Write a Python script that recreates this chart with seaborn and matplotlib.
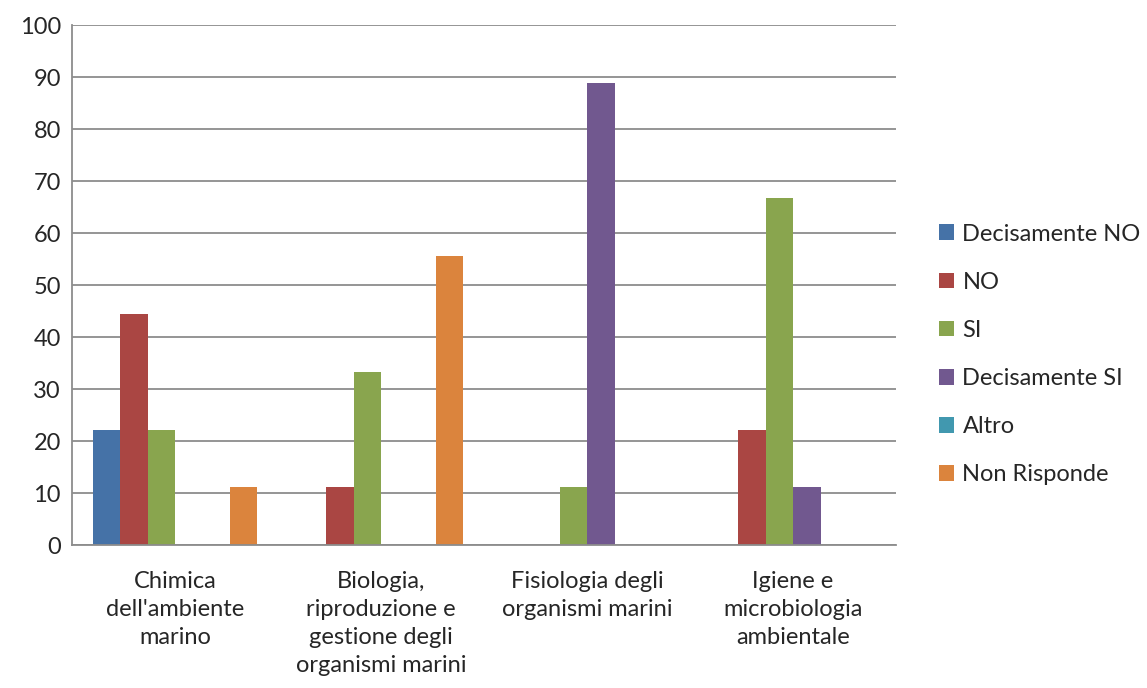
import numpy as np
import pandas as pd
import seaborn as sns
import matplotlib
matplotlib.use("Agg")
import matplotlib.pyplot as plt
from matplotlib.patches import Patch

# data
categorie = ["Chimica\ndell'ambiente\nmarino",
             "Biologia,\nriproduzione e\ngestione degli\norganismi marini",
             "Fisiologia degli\norganismi marini",
             "Igiene e\nmicrobiologia\nambientale"]
risposte = ["Decisamente NO", "NO", "SI", "Decisamente SI", "Altro", "Non Risponde"]
decisamente_no = [22.2, 0, 0, 0]
no = [44.4, 11.1, 0, 22.2]
si = [22.2, 33.3, 11.1, 66.7]
decisamente_si = [0, 0, 88.9, 11.1]
altro = [0, 0, 0, 0]
non_risponde = [11.1, 55.6, 0, 0]

colori = ["#4572A7", "#AA4643", "#89A54E", "#71588F", "#4198AF", "#DB843D"]

valori = [decisamente_no, no, si, decisamente_si, altro, non_risponde]
rows = []
for r, v in zip(risposte, valori):
    for c, x in zip(categorie, v):
        rows.append({"categoria": c, "risposta": r, "valore": x})
df = pd.DataFrame(rows)

sns.set_style("white")
plt.rcParams['font.family'] = ['Lato', 'DejaVu Sans']

fig = plt.figure(figsize=(11.47, 6.88), dpi=100)
ax = fig.add_axes([0.0628, 0.2078, 0.7184, 0.7558])
sns.barplot(data=df, x="categoria", y="valore", hue="risposta",
            hue_order=risposte, palette=colori, width=0.8, gap=0,
            saturation=1, linewidth=0, ax=ax, legend=False)

ax.set_ylim(0, 100)
ax.set_xlim(-0.5, 3.5)
ax.set_yticks(np.arange(0, 101, 10))
ax.yaxis.grid(True, color="#8c8c8c", linewidth=1.3)
ax.set_axisbelow(True)
ax.set_xlabel("")
ax.set_ylabel("")
for s in ["top", "right"]:
    ax.spines[s].set_visible(False)
for s in ["left", "bottom"]:
    ax.spines[s].set_color("#8c8c8c")
    ax.spines[s].set_linewidth(1.3)
ax.tick_params(axis="y", labelsize=17, length=0, pad=8)
ax.tick_params(axis="x", labelsize=17, length=0, pad=19)
for t in ax.get_xticklabels():
    t.set_linespacing(1.4)

handles = [Patch(facecolor=c, edgecolor="none") for c in colori]
fig.legend(handles, risposte, loc="upper left", bbox_to_anchor=(0.800, 0.706),
           frameon=False, fontsize=17, handlelength=0.65, handleheight=0.65,
           handletextpad=0.35, labelspacing=1.15)

plt.savefig("out.png", dpi=100)
